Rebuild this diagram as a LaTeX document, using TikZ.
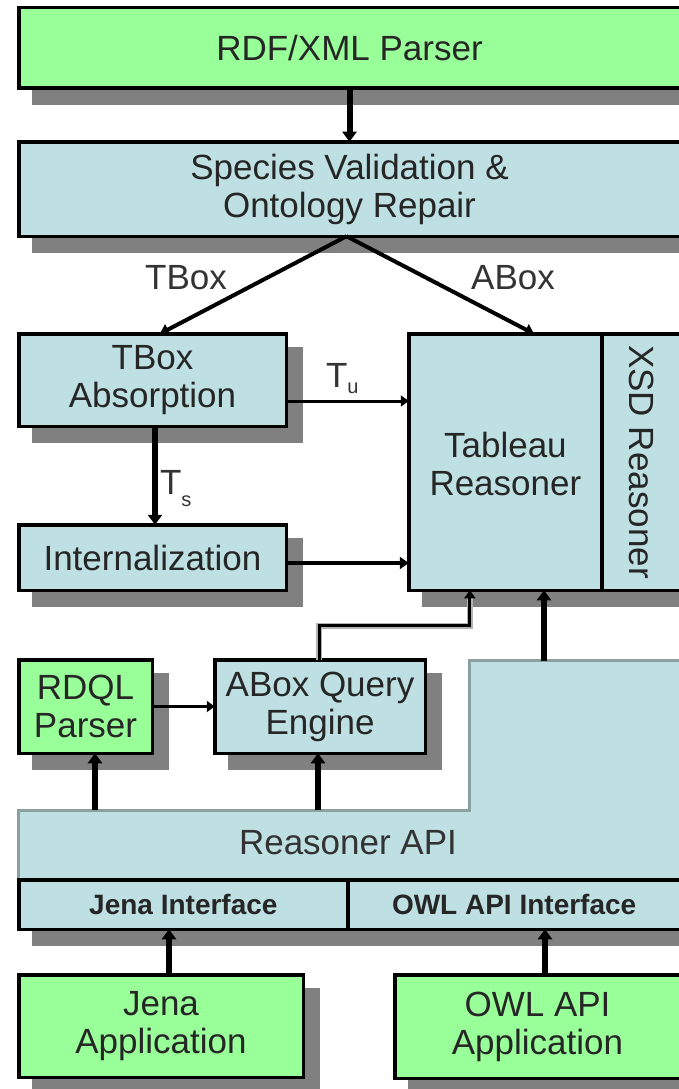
\documentclass[tikz,border=0pt]{standalone}
\usepackage{fontspec}
\setmainfont{Liberation Sans}
\usetikzlibrary{arrows.meta,calc}
\definecolor{boxgreen}{RGB}{153,255,153}
\definecolor{boxblue}{RGB}{190,224,226}
\definecolor{shadowgray}{RGB}{128,128,128}
\definecolor{apiborder}{RGB}{140,160,160}
\tikzset{
  bx/.style={draw=black, line width=3.5pt, rectangle, inner sep=0pt, outer sep=0pt,
    align=center, font=\fontsize{35}{38}\selectfont, text=black!85},
  gbox/.style={bx, fill=boxgreen},
  bbox/.style={bx, fill=boxblue},
  ifbox/.style={bx, fill=boxblue, font=\fontsize{28}{30}\selectfont\bfseries},
  shd/.style={fill=shadowgray, draw=none},
  arrthick/.style={line width=6pt, -{Triangle[length=10pt,width=14pt]}},
  arrmid/.style={line width=4pt, -{Triangle[length=9pt,width=12pt]}},
  arrthin/.style={line width=3pt, -{Triangle[length=8pt,width=11pt]}},
  halo/.style={line width=6pt, draw=black!30},
  lbl/.style={font=\fontsize{35}{38}\selectfont, text=black!80, inner sep=0pt, outer sep=0pt},
}
% #1 name, #2 style, #3 x1, #4 y1, #5 x2, #6 y2 (outer edges), #7 text
\newcommand\mybox[7]{%
  \path[shd] ({#3+15},{#4+15}) rectangle ({#5+15},{#6+15});
  \node[#2, minimum width={(#5-#3-3.5)*1pt}, minimum height={(#6-#4-3.5)*1pt}]
    (#1) at ({(#3+#5)/2},{(#4+#6)/2}) {#7};
}
\begin{document}
\begin{tikzpicture}[x=1pt,y=-1pt]
\clip (0,0) rectangle (679,1089);
\fill[white] (0,0) rectangle (679,1089);

\mybox{rdf}{gbox}{17}{6}{682}{90}{RDF/XML Parser}
\mybox{species}{bbox}{17}{140}{682}{238}{Species Validation \&\\Ontology Repair}
\mybox{tbox}{bbox}{17}{332}{288}{428}{TBox\\Absorption}
\mybox{intern}{bbox}{17}{523}{288}{592}{Internalization}
\mybox{tableau}{bbox}{407}{332}{603.75}{592}{\raisebox{-7pt}[\height][\depth]{\begin{tabular}{@{}c@{}}Tableau\\Reasoner\end{tabular}}}
\path[shd] (615.25,347) rectangle (697,607);
\node[bbox, rotate=-90, minimum width={(592-332-3.5)*1pt}, minimum height={(682-600.25-3.5)*1pt}]
  (xsd) at ({(600.25+682)/2},{(332+592)/2}) {XSD Reasoner};
\mybox{rdql}{gbox}{17}{658}{154}{755}{RDQL\\Parser}
\mybox{aqe}{bbox}{213}{658}{427}{755}{ABox Query\\Engine}

% Reasoner API region
\draw[draw=apiborder, line width=3pt, fill=boxblue]
  (18.5,810.5) -- (469.5,810.5) -- (469.5,660.5) -- (690,660.5) -- (690,879) -- (18.5,879) -- cycle;
\node[lbl] (api) at (348,843) {Reasoner API};
\mybox{jenaif}{ifbox}{17}{878}{349.75}{931}{Jena Interface}
\mybox{owlif}{ifbox}{346.25}{878}{682}{931}{OWL API Interface}

\mybox{jenaapp}{gbox}{17}{973}{305}{1079}{Jena\\Application}
\mybox{owlapp}{gbox}{393}{973}{682}{1080}{OWL API\\Application}

% labels
\node[lbl] (tboxlbl) at (186,278) {TBox};
\node[lbl] (aboxlbl) at (513,278) {ABox};
\node[lbl, anchor=base west] (tulbl) at (326,387) {T\raisebox{-6pt}{\fontsize{20}{20}\selectfont u}};
\node[lbl, anchor=base west] (tslbl) at (160,494) {T\raisebox{-12pt}{\fontsize{20}{20}\selectfont s}};

% connectors
\draw[arrthick] (rdf.south) -- (species.north);
\draw[arrmid] ([xshift=-3pt]species.south) -- ([xshift=7.5pt]tbox.north);
\draw[arrmid] ([xshift=-3pt]species.south) -- ([xshift=28.5pt]tableau.north);
\draw[arrthin] ([yshift=-21pt]tbox.east) -- ([yshift=-21pt]tbox.east -| tableau.west);
\draw[arrthick] ([xshift=2.5pt]tbox.south) -- ([xshift=2.5pt]intern.north);
\draw[arrmid] ([yshift=-5.5pt]intern.east) -- ([yshift=-5.5pt]intern.east -| tableau.west);
\draw[arrthin] (rdql.east) -- (aqe.west);
\draw[halo] ([xshift=-1pt]aqe.north) -- ++(0,-34) -| ([xshift=-35.5pt,yshift=-8pt]tableau.south);
\draw[arrthin] ([xshift=-1pt]aqe.north) -- ++(0,-34) -| ([xshift=-35.5pt]tableau.south);

\coordinate (apiR) at (95,810);
\coordinate (apiQ) at (318,810);
\coordinate (apiT) at (544,661);
\draw[arrthick] (apiR) -- (apiR |- rdql.south);
\draw[arrthick] (apiQ) -- (apiQ |- aqe.south);
\draw[arrthick] (apiT) -- (apiT |- tableau.south);
\draw[arrthick] ([xshift=8pt]jenaapp.north) -- ([xshift=8pt]jenaapp.north |- jenaif.south);
\draw[arrthick] ([xshift=7.5pt]owlapp.north) -- ([xshift=7.5pt]owlapp.north |- owlif.south);
\end{tikzpicture}
\end{document}
